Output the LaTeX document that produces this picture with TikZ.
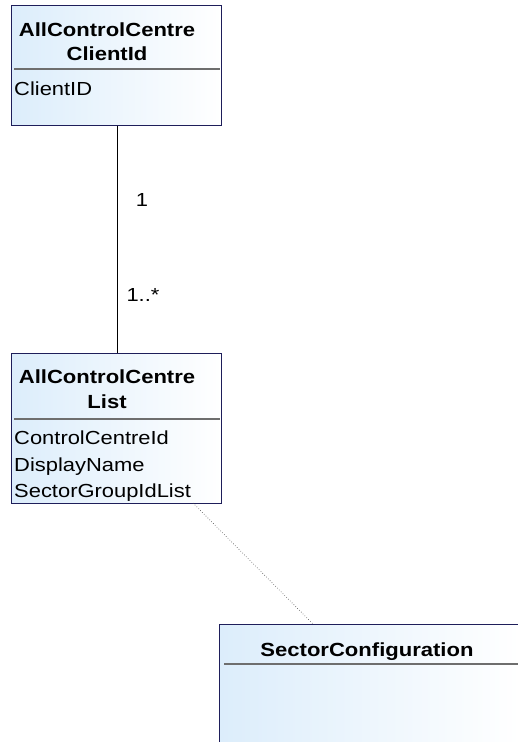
\documentclass[tikz,border=0pt]{standalone}
\usepackage{fontspec}
\setmainfont{Liberation Sans}[FakeStretch=1.16]
\begin{document}
\begin{tikzpicture}[x=1pt,y=-1pt,
  classbox/.style={draw=boxline,line width=1.2pt,left color=boxfill,right color=white,
    rectangle,inner sep=0pt,anchor=north west},
  title/.style={font=\fontsize{19}{23}\selectfont\bfseries,inner sep=0pt,anchor=base},
  attr/.style={font=\fontsize{18.9}{23}\selectfont,inner sep=0pt,anchor=base west},
  mult/.style={font=\fontsize{18.9}{23}\selectfont,inner sep=0pt,anchor=base},
  sepline/.style={draw=sepgray,line width=1.3pt},
  assoc/.style={draw=black,line width=0.9pt},
  dep/.style={draw=depgray,line width=0.6pt,dotted}]
\definecolor{boxline}{RGB}{30,30,90}
\definecolor{boxfill}{RGB}{220,237,251}
\definecolor{sepgray}{RGB}{110,110,110}
\definecolor{depgray}{RGB}{70,70,70}
\useasboundingbox (0,0) rectangle (518,742);
\clip (0,0) rectangle (518,742);
\fill[white] (0,0) rectangle (518,742);

% AllControlCentreClientId
\node[classbox,minimum width=210pt,minimum height=120pt] (c1) at (11,5) {};
\node[title] (c1t1) at (107,36) {AllControlCentre};
\node[title] (c1t2) at (107,60) {ClientId};
\draw[sepline] (14,69) -- (220,69);
\node[attr] (c1a1) at (14,95) {ClientID};

% AllControlCentreList
\node[classbox,minimum width=210pt,minimum height=150pt] (c2) at (11,353) {};
\node[title] (c2t1) at (107,383) {AllControlCentre};
\node[title] (c2t2) at (107,408) {List};
\draw[sepline] (14,419) -- (220,419);
\node[attr] (c2a1) at (14,444) {ControlCentreId};
\node[attr] (c2a2) at (14,471) {DisplayName};
\node[attr] (c2a3) at (14,497) {SectorGroupIdList};

% SectorConfiguration
\node[classbox,minimum width=300pt,minimum height=140pt] (c3) at (219,624) {};
\node[title] (c3t1) at (367,656) {SectorConfiguration};
\draw[sepline] (224,664) -- (530,664);

% association with multiplicities
\draw[assoc] (c1.south -| 117,0) -- (c2.north -| 117,0);
\node[mult] (m1) at (142,206) {1};
\node[mult] (m2) at (143,301) {1..*};

% dependency between list and configuration
\coordinate (d1) at (193,503);
\coordinate (d2) at (313,624);
\draw[dep] (d1) -- (d2);
\end{tikzpicture}
\end{document}
